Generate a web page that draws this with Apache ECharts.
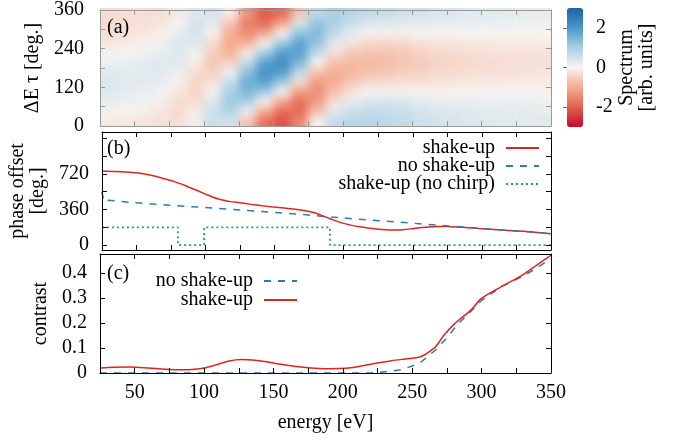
<!DOCTYPE html>
<html><head><meta charset="utf-8">
<script src="https://cdn.jsdelivr.net/npm/echarts@6/dist/echarts.min.js"></script>
<style>
html,body{margin:0;padding:0;background:#fff}
#wrap{position:relative;width:681px;height:441px;background:#fff;overflow:hidden}
#hclip{position:absolute;left:100px;top:8px;width:451px;height:118px;overflow:hidden;z-index:0}
#h{position:absolute;left:-24px;top:-24px;width:499px;height:166px;filter:blur(5px)}
#c{position:absolute;left:0;top:0;width:681px;height:441px;z-index:1}
</style>
</head><body><div id="wrap"><div id="hclip"><div id="h"></div></div><div id="c"></div></div>
<script>
// ---------- data ----------
const energyCenters = [31.25,43.75,56.25,68.75,81.25,93.75,106.25,118.75,131.25,143.75,156.25,168.75,181.25,193.75,206.25,218.75,231.25,243.75,256.25,268.75,281.25,293.75,306.25,318.75,331.25,343.75];
const tauCenters = [15,45,75,105,135,165,195,225,255,285,315,345];
// spectrum[column][row]  (column = energy, row = tau)
const spectrum = [
 [-0.15,0.03,0.2,0.32,0.35,0.29,0.15,-0.03,-0.2,-0.32,-0.35,-0.29],
 [-0.17,-0.03,0.13,0.25,0.3,0.27,0.17,0.03,-0.13,-0.25,-0.3,-0.27],
 [-0.23,-0.1,0.05,0.19,0.28,0.3,0.23,0.1,-0.05,-0.19,-0.28,-0.3],
 [-0.29,-0.21,-0.08,0.08,0.21,0.29,0.29,0.21,0.08,-0.08,-0.21,-0.29],
 [-0.29,-0.35,-0.32,-0.2,-0.03,0.15,0.29,0.35,0.32,0.2,0.03,-0.15],
 [0.12,-0.12,-0.32,-0.43,-0.43,-0.32,-0.12,0.12,0.32,0.43,0.43,0.32],
 [0.6,0.54,0.34,0.05,-0.25,-0.49,-0.6,-0.54,-0.34,-0.05,0.25,0.49],
 [0.47,0.9,1.1,1.0,0.63,0.1,-0.47,-0.9,-1.0,-0.95,-0.63,-0.1],
 [-0.68,0.14,0.92,1.45,1.6,1.31,0.68,-0.14,-0.92,-1.45,-1.6,-1.31],
 [-1.82,-1.05,0,1.05,1.82,2.1,1.82,1.05,0,-1.05,-1.82,-2.1],
 [-2.2,-1.9,-1.1,0,1.1,1.9,2.2,1.9,1.1,0,-1.1,-1.9],
 [-1.46,-1.87,-1.79,-1.22,-0.33,0.65,1.46,1.87,1.79,1.22,0.33,-0.65],
 [0,-0.7,-1.21,-1.4,-1.21,-0.7,0,0.7,1.21,1.4,1.21,0.7],
 [0.71,0.26,-0.26,-0.71,-0.97,-0.97,-0.71,-0.26,0.26,0.71,0.97,0.97],
 [0.82,0.6,0.22,-0.22,-0.6,-0.82,-0.82,-0.6,-0.22,0.22,0.6,0.82],
 [0.8,0.69,0.4,0,-0.4,-0.69,-0.8,-0.69,-0.4,0,0.4,0.69],
 [0.75,0.68,0.43,0.07,-0.32,-0.61,-0.75,-0.68,-0.43,-0.07,0.32,0.61],
 [0.65,0.59,0.37,0.06,-0.27,-0.53,-0.65,-0.59,-0.37,-0.06,0.27,0.53],
 [0.55,0.48,0.28,0,-0.28,-0.48,-0.55,-0.48,-0.28,0,0.28,0.48],
 [0.45,0.39,0.23,0,-0.23,-0.39,-0.45,-0.39,-0.23,0,0.23,0.39],
 [0.4,0.35,0.2,0,-0.2,-0.35,-0.4,-0.35,-0.2,0,0.2,0.35],
 [0.35,0.3,0.18,0,-0.18,-0.3,-0.35,-0.3,-0.18,0,0.18,0.3],
 [0.32,0.28,0.16,0,-0.16,-0.28,-0.32,-0.28,-0.16,0,0.16,0.28],
 [0.3,0.26,0.15,0,-0.15,-0.26,-0.3,-0.26,-0.15,0,0.15,0.26],
 [0.28,0.24,0.14,0,-0.14,-0.24,-0.28,-0.24,-0.14,0,0.14,0.24],
 [0.27,0.23,0.13,0,-0.13,-0.23,-0.27,-0.23,-0.13,0,0.13,0.23]
];
const phaseShakeUp = [[25,750],[35,745],[47,735],[55,722],[63,699],[70,672],[78,640],[86,598],[94,552],[102,505],[110,463],[118,440],[125,428],[133,412],[141,398],[149,386],[157,375],[165,362],[173,345],[180,322],[185,295],[191,262],[198,227],[205,202],[213,183],[224,163],[235,153],[243,156],[251,168],[259,180],[267,189],[275,188],[282,183],[290,176],[298,168],[314,153],[330,139],[340,128],[350,115]];
const phaseNoShakeUp = [[25,540],[26.5,440],[29,455],[47,430],[78,400],[110,370],[141,340],[173,306],[191,284],[220,252],[251,220],[276,194],[298,170],[330,138],[350,115]];
const phaseNoChirp = [[25,180],[80,180],[80,0],[99,0],[99,180],[190,180],[190,0],[350,0]];
const contrastShakeUp = [[25,0.02],[35,0.023],[47,0.024],[60,0.02],[72,0.015],[85,0.013],[93,0.015],[100,0.02],[110,0.035],[118,0.048],[127,0.054],[135,0.052],[145,0.045],[154,0.036],[165,0.027],[177,0.02],[188,0.017],[196,0.018],[204,0.02],[215,0.03],[225,0.04],[235,0.049],[245,0.056],[254,0.062],[259,0.073],[263,0.088],[267,0.106],[273,0.152],[281,0.199],[292,0.25],[300,0.298],[314,0.344],[330,0.393],[340,0.432],[350,0.47]];
const contrastNoShakeUp = [[25,0],[220,0],[226,0.003],[235,0.007],[242,0.013],[251,0.03],[256,0.043],[260,0.06],[267,0.093],[276,0.146],[282,0.19],[292,0.245],[300,0.29],[314,0.344],[330,0.387],[340,0.42],[350,0.457]];
const xTickValues = [50,75,100,125,150,175,200,225,250,275,300,325];
const xLabelValues = [50,100,150,200,250,300,350];
const tauTickValues = [60,120,180,240,300];
const tauLabelValues = [0,120,240,360];
const phaseTickValues = [0,180,360,540,720,900,1080];
const phaseLabelValues = [0,360,720];
const contrastTickValues = [0.1,0.2,0.3,0.4];
const contrastLabelValues = [0,0.1,0.2,0.3,0.4];
const colorbarValues = [-2,0,2];

// ---------- styling ----------
const FONT = 'Liberation Serif';
const FS = 20;
const RED = '#e3241b', BLUE = '#2b7bba', GREEN = '#12a37f';
const MAP_COLORS = ['#c9082a','#e3624f','#f4ab8f','#f7f4f2','#a9cfe5','#4a98c9','#1a63a5'];
const cellW = 12.5, cellH = 30, EDGE = 24;

// ---------- heatmap layer (panel a) ----------
const heatData = [];
energyCenters.forEach((e, i) => tauCenters.forEach((t, j) => heatData.push([e, t, spectrum[i][j]])));
const eFirst = energyCenters[0], eLast = energyCenters[energyCenters.length - 1];
const tFirst = tauCenters[0], tLast = tauCenters[tauCenters.length - 1];
const heat = echarts.init(document.getElementById('h'));
heat.setOption({
  animation: false,
  grid: {left: EDGE, top: EDGE, width: 451, height: 118},
  xAxis: {type: 'value', min: 25, max: 350, show: false},
  yAxis: {type: 'value', min: 0, max: 360, show: false},
  visualMap: {type: 'continuous', show: false, dimension: 2, min: -3, max: 3, inRange: {color: MAP_COLORS}},
  series: [{type: 'custom', clip: false, data: heatData, encode: {x: 0, y: 1},
    renderItem: function (params, api) {
      const e = api.value(0), t = api.value(1);
      const p0 = api.coord([e - cellW / 2, t + cellH / 2]);
      const p1 = api.coord([e + cellW / 2, t - cellH / 2]);
      let x0 = p0[0], y0 = p0[1], x1 = p1[0] + 0.6, y1 = p1[1] + 0.6;
      if (e === eFirst) x0 -= EDGE;
      if (e === eLast) x1 += EDGE;
      if (t === tLast) y0 -= EDGE;
      if (t === tFirst) y1 += EDGE;
      return {type: 'rect', shape: {x: x0, y: y0, width: x1 - x0, height: y1 - y0}, style: {fill: api.visual('color')}};
    }}]
});

// ---------- main chart ----------
const txt = {fontFamily: FONT, fontSize: FS, color: '#000'};
function xAx(grid, pos, color, labels, extra) {
  return Object.assign({
    gridIndex: grid, type: 'value', min: 25, max: 350, position: pos, z: 10,
    axisLine: {onZero: false, lineStyle: {color: color, width: 1}},
    axisTick: {inside: true, length: 5, customValues: xTickValues, lineStyle: {color: color}},
    axisLabel: labels ? Object.assign({customValues: xLabelValues, margin: 10}, txt) : {show: false},
    splitLine: {show: false}
  }, extra || {});
}
function yAx(grid, pos, color, min, max, ticks, labels, margin, extra) {
  return Object.assign({
    gridIndex: grid, type: 'value', min: min, max: max, position: pos, z: 10,
    axisLine: {onZero: false, lineStyle: {color: color, width: 1}},
    axisTick: {inside: true, length: 5, customValues: ticks, lineStyle: {color: color}},
    axisLabel: labels ? Object.assign({customValues: labels, margin: margin}, txt) : {show: false},
    splitLine: {show: false}
  }, extra || {});
}
const legendBase = {orient: 'vertical', align: 'right', itemWidth: 33, itemHeight: 10, itemGap: 0, padding: 0,
  selectedMode: false, itemStyle: {opacity: 0},
  textStyle: {fontFamily: FONT, fontSize: FS, color: '#000', padding: [0, 6, 0, 0]}};
const titleStyle = {fontFamily: FONT, fontSize: FS, fontWeight: 'normal', color: '#000'};

const option = {
  animation: false,
  backgroundColor: 'transparent',
  title: [
    {text: '(a)', left: 107, top: 18, textStyle: titleStyle, padding: 0},
    {text: '(b)', left: 107, top: 139, textStyle: titleStyle, padding: 0},
    {text: '(c)', left: 107, top: 264, textStyle: titleStyle, padding: 0}
  ],
  grid: [
    {left: 100, top: 8, width: 451, height: 118},
    {left: 100, top: 132, width: 451, height: 118},
    {left: 100, top: 254, width: 451, height: 119},
    {left: 567, top: 8, width: 16, height: 119}
  ],
  xAxis: [
    xAx(0, 'bottom', '#999', false), xAx(0, 'top', '#999', false),
    xAx(1, 'bottom', '#000', false), xAx(1, 'top', '#000', false),
    xAx(2, 'bottom', '#000', true, {name: 'energy [eV]', nameLocation: 'middle', nameGap: 40, nameTextStyle: txt}),
    xAx(2, 'top', '#000', false),
    {gridIndex: 3, type: 'value', show: false, min: 0, max: 1}
  ],
  yAxis: [
    yAx(0, 'left', '#999', 0, 360, tauTickValues, tauLabelValues, 16, {name: 'ΔE τ [deg.]', nameLocation: 'middle', nameGap: 47, nameTextStyle: txt}),
    yAx(0, 'right', '#999', 0, 360, tauTickValues, null, 0),
    yAx(1, 'left', '#000', -50, 1145, phaseTickValues, phaseLabelValues, 13, {name: 'phase offset\n[deg.]', nameLocation: 'middle', nameGap: 42, nameTextStyle: Object.assign({lineHeight: 20}, txt)}),
    yAx(1, 'right', '#000', -50, 1145, phaseTickValues, null, 0),
    yAx(2, 'left', '#000', 0, 0.475, contrastTickValues, contrastLabelValues, 13, {name: 'contrast', nameLocation: 'middle', nameGap: 47, nameTextStyle: txt}),
    yAx(2, 'right', '#000', 0, 0.475, contrastTickValues, null, 0),
    {gridIndex: 3, type: 'value', min: -3, max: 3, position: 'right',
     axisLine: {show: false},
     axisTick: {inside: true, length: 4, customValues: colorbarValues, lineStyle: {color: '#666'}},
     axisLabel: Object.assign({customValues: colorbarValues, margin: 13}, txt),
     splitLine: {show: false},
     name: 'Spectrum\n[arb. units]', nameLocation: 'middle', nameGap: 30, nameTextStyle: Object.assign({lineHeight: 20}, txt)}
  ],
  visualMap: {
    type: 'continuous', seriesIndex: 5, dimension: 1, min: -3, max: 3,
    left: 567, top: 8, itemWidth: 16, itemHeight: 119, padding: 0, calculable: false, text: null,
    inRange: {color: MAP_COLORS}
  },
  legend: [
    Object.assign({data: ['shake-up'], right: 141, top: 138}, legendBase),
    Object.assign({data: ['no shake-up'], right: 141, top: 156}, legendBase),
    Object.assign({data: ['shake-up (no chirp)'], right: 141, top: 174}, legendBase),
    Object.assign({data: ['no shake-up'], right: 383, top: 271}, legendBase),
    Object.assign({data: ['shake-up'], right: 383, top: 290}, legendBase)
  ],
  series: [
    {name: 'shake-up', type: 'line', xAxisIndex: 2, yAxisIndex: 2, data: phaseShakeUp, symbol: 'none', smooth: 0.3,
     lineStyle: {color: RED, width: 1.5}, itemStyle: {color: RED}},
    {name: 'no shake-up', type: 'line', xAxisIndex: 2, yAxisIndex: 2, data: phaseNoShakeUp, symbol: 'none',
     lineStyle: {color: BLUE, width: 1.5, type: [7, 7]}, itemStyle: {color: BLUE}},
    {name: 'shake-up (no chirp)', type: 'line', xAxisIndex: 2, yAxisIndex: 2, data: phaseNoChirp, symbol: 'none',
     lineStyle: {color: GREEN, width: 1.8, type: [2, 3]}, itemStyle: {color: GREEN}},
    {name: 'no shake-up', type: 'line', xAxisIndex: 4, yAxisIndex: 4, data: contrastNoShakeUp, symbol: 'none',
     lineStyle: {color: BLUE, width: 1.5, type: [7, 7]}, itemStyle: {color: BLUE}},
    {name: 'shake-up', type: 'line', xAxisIndex: 4, yAxisIndex: 4, data: contrastShakeUp, symbol: 'none', smooth: 0.3,
     lineStyle: {color: RED, width: 1.5}, itemStyle: {color: RED}},
    {name: 'colorbar', type: 'scatter', xAxisIndex: 6, yAxisIndex: 6, data: [], silent: true}
  ]
};
const chart = echarts.init(document.getElementById('c'));
chart.setOption(option);
</script></body></html>
